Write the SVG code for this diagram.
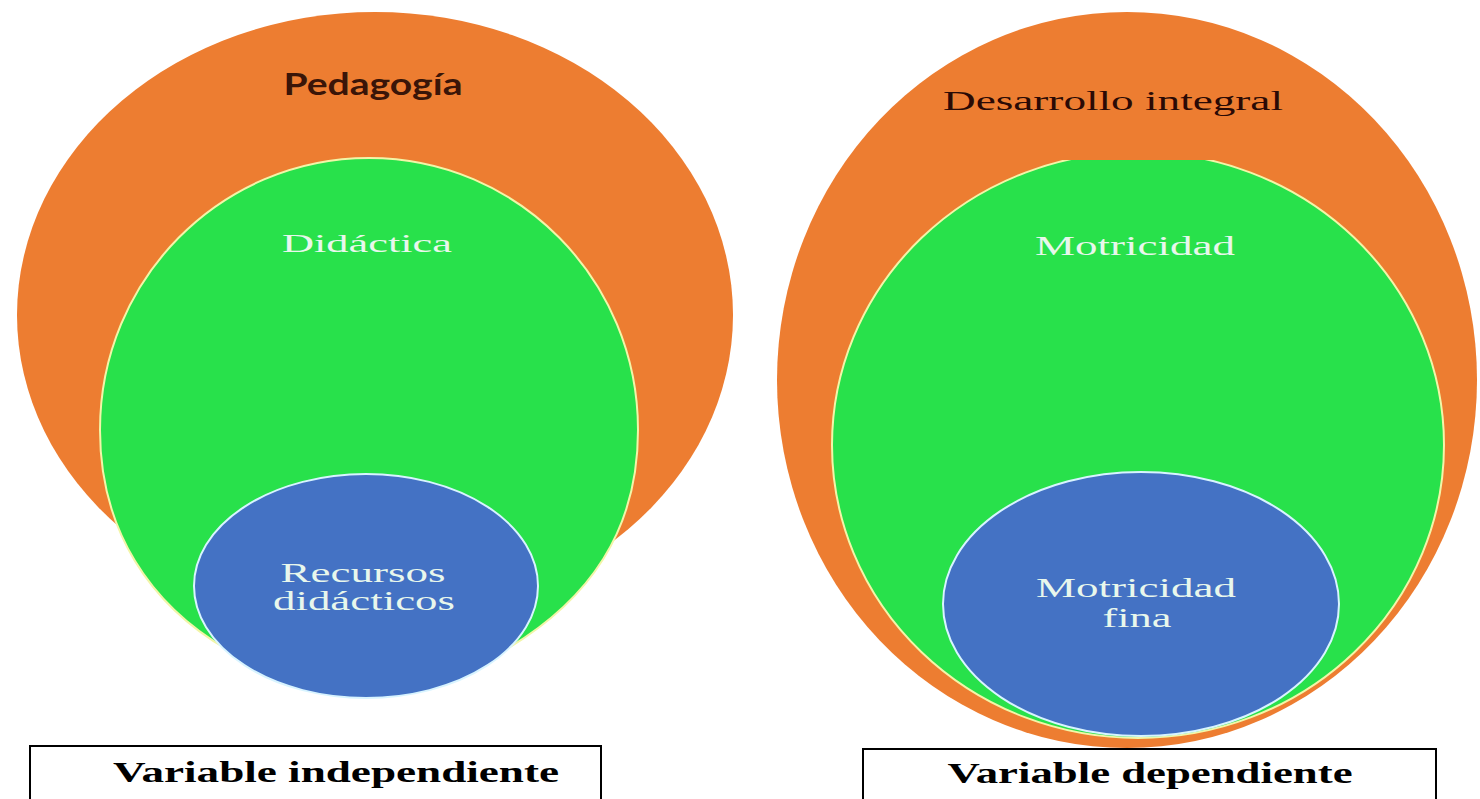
<svg xmlns="http://www.w3.org/2000/svg" width="1480" height="799" viewBox="0 0 1480 799">
<style>
.orange{fill:#ED7D31;}
.green{fill:#28E14B;stroke:#F2F5A8;stroke-width:2;}
.blue{fill:#4472C4;stroke:#D8F4FF;stroke-width:2;}
.box{fill:#FFFFFF;stroke:#000000;stroke-width:2;}
.serif{font-family:"Liberation Serif","DejaVu Serif",serif;text-anchor:middle;}
.light{fill:#E8F7EC;}
.lab{font-family:"Liberation Serif","DejaVu Serif",serif;font-weight:bold;font-size:30px;fill:#000;text-anchor:middle;}
</style>
<defs>
<clipPath id="clipTop"><rect x="700" y="160" width="780" height="640"/></clipPath>
</defs>
<rect x="0" y="0" width="1480" height="799" fill="#FFFFFF"/>
<g id="pedagogia">
<ellipse class="orange" cx="375" cy="315" rx="358" ry="303"/>
<text x="373" y="95" font-family="Lato,'Open Sans','Liberation Sans',sans-serif" font-weight="bold" font-size="30" fill="#3A1508" text-anchor="middle" textLength="179" lengthAdjust="spacingAndGlyphs">Pedagogía</text>
</g>
<g id="didactica">
<path class="green" d="M369,158 C518,158 638,280 638,430 C638,530 590,600 505,650 L369,690 L228,650 C150,605 100,530 100,430 C100,280 220,158 369,158 Z"/>
<text class="serif light" x="367" y="252" font-size="26" textLength="170" lengthAdjust="spacingAndGlyphs">Didáctica</text>
</g>
<g id="recursos">
<ellipse class="blue" cx="366" cy="586" rx="172" ry="112"/>
<text class="serif light" x="363" y="582" font-size="27" textLength="165" lengthAdjust="spacingAndGlyphs">Recursos</text>
<text class="serif light" x="364" y="610" font-size="27" textLength="182" lengthAdjust="spacingAndGlyphs">didácticos</text>
</g>
<g id="desarrollo">
<ellipse class="orange" cx="1127" cy="380" rx="350" ry="368"/>
<text class="serif" x="1113" y="110" font-size="27" fill="#2A0A05" textLength="340" lengthAdjust="spacingAndGlyphs">Desarrollo integral</text>
</g>
<g id="motricidad">
<ellipse class="green" cx="1138" cy="445" rx="306" ry="293" clip-path="url(#clipTop)"/>
<text class="serif light" x="1135" y="255" font-size="27" textLength="200" lengthAdjust="spacingAndGlyphs">Motricidad</text>
</g>
<g id="motricidad-fina">
<ellipse class="blue" cx="1141" cy="604" rx="198" ry="132"/>
<text class="serif light" x="1136" y="597" font-size="27" textLength="200" lengthAdjust="spacingAndGlyphs">Motricidad</text>
<text class="serif light" x="1137" y="627" font-size="27" textLength="69" lengthAdjust="spacingAndGlyphs">fina</text>
</g>
<g id="variable-independiente">
<rect class="box" x="30" y="746" width="571" height="60"/>
<text class="lab" x="336" y="782" textLength="446" lengthAdjust="spacingAndGlyphs">Variable independiente</text>
</g>
<g id="variable-dependiente">
<rect class="box" x="863" y="749" width="573" height="60"/>
<text class="lab" x="1150" y="783" textLength="405" lengthAdjust="spacingAndGlyphs">Variable dependiente</text>
</g>
<g id="connectors"></g>
</svg>
